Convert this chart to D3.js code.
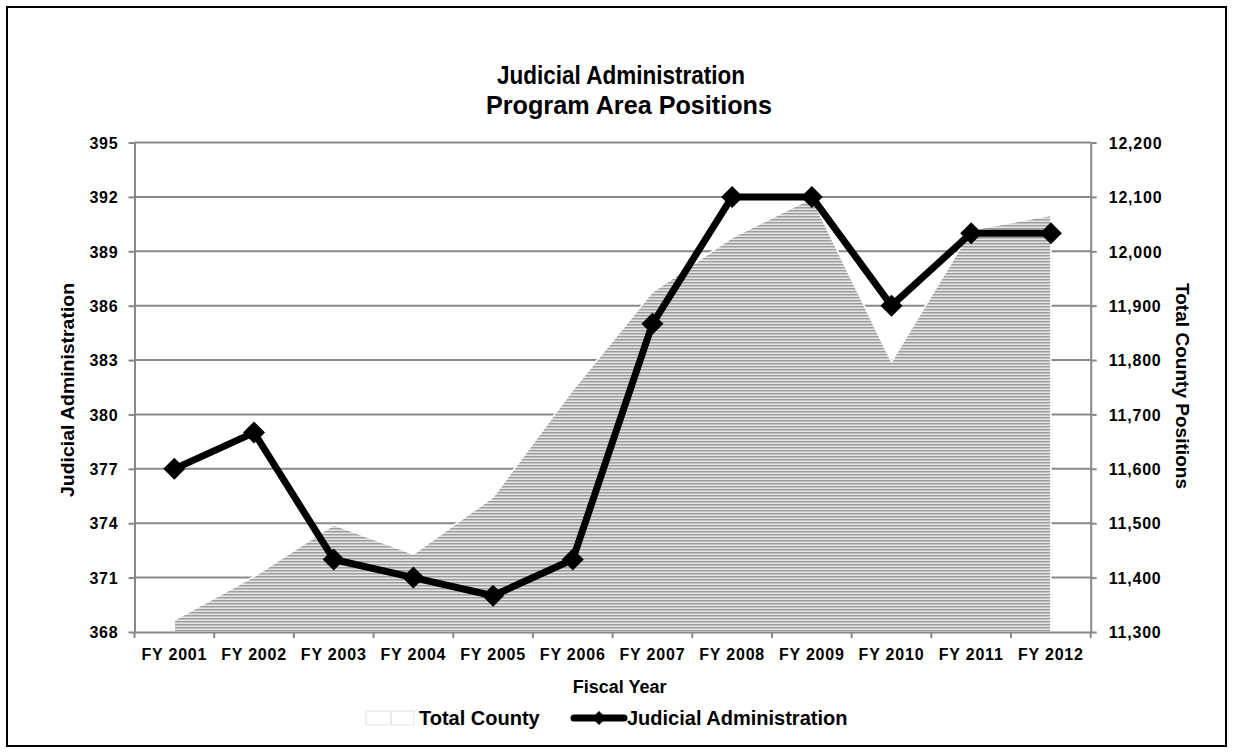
<!DOCTYPE html>
<html>
<head>
<meta charset="utf-8">
<script src="https://cdn.jsdelivr.net/npm/d3@7"></script>
<style>
  html, body { margin: 0; padding: 0; background: #fff; }
  svg { display: block; }
  .tick-label { font-family: "Liberation Sans", Arial, sans-serif; font-weight: bold; font-size: 16px; letter-spacing: 0.8px; fill: #000; }
  .narrow { font-family: "Liberation Sans Narrow", "Arial Narrow", "Liberation Sans", sans-serif; font-weight: bold; fill: #000; }
</style>
</head>
<body>
<svg id="chart" width="1233" height="753"></svg>
<script>
const categories = ["FY 2001","FY 2002","FY 2003","FY 2004","FY 2005","FY 2006","FY 2007","FY 2008","FY 2009","FY 2010","FY 2011","FY 2012"];
const judicialAdmin = [377, 379, 372, 371, 370, 372, 385, 392, 392, 386, 390, 390];
const totalCounty = [11322, 11402, 11497, 11443, 11548, 11745, 11925, 12025, 12098, 11797, 12039, 12066];
const leftTicks = [368, 371, 374, 377, 380, 383, 386, 389, 392, 395];
const rightTicks = [11300, 11400, 11500, 11600, 11700, 11800, 11900, 12000, 12100, 12200];
const titleLines = ["Judicial Administration", "Program Area Positions"];
const leftAxisTitle = "Judicial Administration";
const rightAxisTitle = "Total County Positions";
const xAxisTitle = "Fiscal Year";
const legendLabels = ["Total County", "Judicial Administration"];

const svg = d3.select("#chart");
const L = 134.5, R = 1090.7, T = 142.5, B = 632;

const x = d3.scaleBand().domain(categories).range([L, R]).padding(0);
const cx = c => x(c) + x.bandwidth() / 2;
const yL = d3.scaleLinear().domain([368, 395]).range([B, T]);
const yR = d3.scaleLinear().domain([11300, 12200]).range([B, T]);

// outer border
svg.append("rect").attr("x", 7).attr("y", 7).attr("width", 1219).attr("height", 739)
  .attr("fill", "#fff").attr("stroke", "#000").attr("stroke-width", 2);

// pattern
const defs = svg.append("defs");
const pat = defs.append("pattern").attr("id", "hstripe").attr("patternUnits", "userSpaceOnUse")
  .attr("width", 8).attr("height", 3);
pat.append("rect").attr("x", 0).attr("y", 0).attr("width", 8).attr("height", 1).attr("fill", "#9c9c9c");
pat.append("rect").attr("x", 0).attr("y", 1).attr("width", 8).attr("height", 1).attr("fill", "#c2c2c2");
pat.append("rect").attr("x", 0).attr("y", 2).attr("width", 8).attr("height", 1).attr("fill", "#e4e4e4");

// gridlines
svg.append("g").selectAll("line").data(leftTicks.slice(1)).join("line")
  .attr("x1", L).attr("x2", R).attr("y1", d => yL(d)).attr("y2", d => yL(d))
  .attr("stroke", "#888").attr("stroke-width", 2);

// area
const data = categories.map((c, i) => ({ c, j: judicialAdmin[i], t: totalCounty[i] }));
const area = d3.area().x(d => cx(d.c)).y0(B).y1(d => yR(d.t));
svg.append("path").datum(data).attr("d", area)
  .attr("fill", "url(#hstripe)").attr("stroke", "#fff").attr("stroke-width", 1.5);

// axes
const leftAxis = d3.axisLeft(yL).tickValues(leftTicks).tickSize(6).tickSizeOuter(0).tickPadding(10);
const gl = svg.append("g").attr("transform", `translate(${L},0)`).call(leftAxis);
const rightAxis = d3.axisRight(yR).tickValues(rightTicks).tickSize(6).tickSizeOuter(0).tickPadding(12)
  .tickFormat(d3.format(","));
const gr = svg.append("g").attr("transform", `translate(${R},0)`).call(rightAxis);
[gl, gr].forEach(g => {
  g.select(".domain").attr("stroke", "#888").attr("stroke-width", 2);
  g.selectAll(".tick line").attr("stroke", "#888").attr("stroke-width", 2);
  g.selectAll(".tick text").attr("class", "tick-label").attr("dy", "0.36em");
});

const bottomAxis = d3.axisBottom(x).tickSize(0).tickPadding(14);
const gb = svg.append("g").attr("transform", `translate(0,${B})`).call(bottomAxis);
gb.select(".domain").attr("stroke", "#888").attr("stroke-width", 2);
gb.selectAll(".tick text").attr("class", "tick-label").attr("dy", "0.9em");
// category boundary tick marks
const bounds = categories.map(c => x(c)).concat([R]);
svg.append("g").selectAll("line").data(bounds).join("line")
  .attr("x1", d => d).attr("x2", d => d).attr("y1", B).attr("y2", B + 6)
  .attr("stroke", "#888").attr("stroke-width", 2);

// line series
const line = d3.line().x(d => cx(d.c)).y(d => yL(d.j));
svg.append("path").datum(data).attr("d", line)
  .attr("fill", "none").attr("stroke", "#000").attr("stroke-width", 7).attr("stroke-linejoin", "round");
const diamond = (s) => `M0,${-s}L${s},0L0,${s}L${-s},0Z`;
svg.append("g").selectAll("path").data(data).join("path")
  .attr("transform", d => `translate(${cx(d.c)},${yL(d.j)})`)
  .attr("d", diamond(11)).attr("fill", "#000");

// titles
const mid = (L + R) / 2 + 7;
svg.append("text").attr("class", "narrow").attr("x", 621).attr("y", 84).attr("text-anchor", "middle")
  .attr("textLength", 248).attr("lengthAdjust", "spacingAndGlyphs")
  .style("font-size", "26px").text(titleLines[0]);
svg.append("text").attr("class", "narrow").attr("x", 629).attr("y", 114).attr("text-anchor", "middle")
  .attr("textLength", 286).attr("lengthAdjust", "spacingAndGlyphs")
  .style("font-size", "26px").text(titleLines[1]);

svg.append("text").attr("class", "narrow").attr("transform", `translate(74,390) rotate(-90)`)
  .attr("text-anchor", "middle").attr("textLength", 214).attr("lengthAdjust", "spacingAndGlyphs")
  .style("font-size", "18px").text(leftAxisTitle);
svg.append("text").attr("class", "narrow").attr("transform", `translate(1176,386) rotate(90)`)
  .attr("text-anchor", "middle").attr("textLength", 206).attr("lengthAdjust", "spacingAndGlyphs")
  .style("font-size", "18px").text(rightAxisTitle);
svg.append("text").attr("class", "narrow").attr("x", mid).attr("y", 693).attr("text-anchor", "middle")
  .style("font-size", "18px").text(xAxisTitle);

// legend
const ly = 718;
svg.append("rect").attr("x", 366).attr("y", ly - 7).attr("width", 48).attr("height", 14)
  .attr("fill", "#fff").attr("stroke", "#e4e4e4").attr("stroke-width", 1);
svg.append("line").attr("x1", 391).attr("x2", 391).attr("y1", ly - 6).attr("y2", ly + 6)
  .attr("stroke", "#d0d0d0").attr("stroke-width", 1);
svg.append("text").attr("class", "narrow").attr("x", 419).attr("y", ly + 7)
  .style("font-size", "20px").text(legendLabels[0]);
svg.append("line").attr("x1", 574).attr("x2", 624).attr("y1", ly).attr("y2", ly)
  .attr("stroke", "#000").attr("stroke-width", 7).attr("stroke-linecap", "round");
svg.append("path").attr("transform", `translate(599,${ly})`).attr("d", diamond(7)).attr("fill", "#000");
svg.append("text").attr("class", "narrow").attr("x", 627).attr("y", ly + 7)
  .style("font-size", "20px").text(legendLabels[1]);
</script>
</body>
</html>
